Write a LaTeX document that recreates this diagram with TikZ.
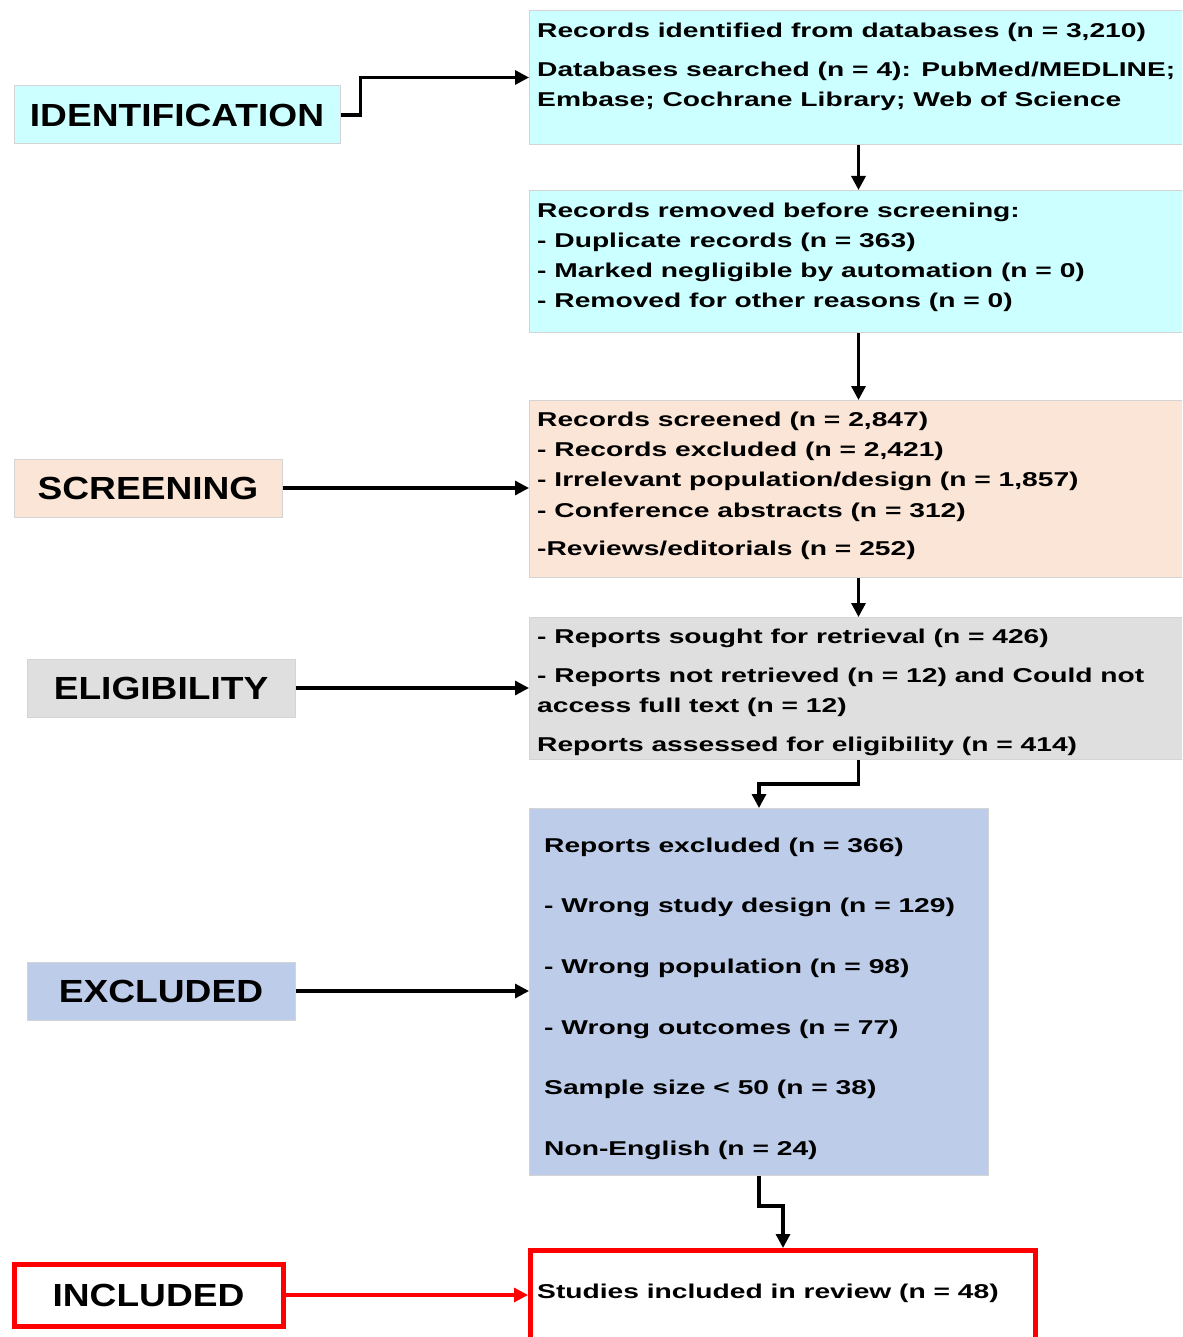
\documentclass[tikz,border=0pt]{standalone}
\usepackage{fontspec}
\setmainfont{Liberation Sans}
\newfontfamily\panelfont[FakeStretch=1.41]{Liberation Sans}
\newfontfamily\tagfont[FakeStretch=1.16]{Liberation Sans}
\definecolor{idcyan}{HTML}{CCFFFF}
\definecolor{scrpeach}{HTML}{FBE5D6}
\definecolor{eliggray}{HTML}{DFDFDF}
\definecolor{exclblue}{HTML}{BCCCE9}
\definecolor{edgegray}{HTML}{D4D4D4}
\definecolor{inclred}{HTML}{FF0000}
\usetikzlibrary{arrows.meta, positioning, calc}
\tikzstyle{tag} = [rectangle, draw=edgegray, line width=1pt, minimum height=58pt, text centered, font=\tagfont\bfseries\fontsize{32}{38}\selectfont]
\tikzstyle{panel} = [rectangle, draw=edgegray, line width=1pt, anchor=north west, inner sep=0pt]
\tikzstyle{arrow} = [-{Triangle[length=14pt, width=14pt]}, line width=3.2pt, color=black]

\begin{document}
\begin{tikzpicture}[
    x=1pt, y=-1pt,
    lines/.style={anchor=north west, inner sep=0pt, align=left,
      font=\panelfont\bfseries\fontsize{20}{30}\selectfont},
    redarrow/.style={arrow, color=inclred}
  ]
    \useasboundingbox (0,0) rectangle (1182,1337);
    \clip (0,0) rectangle (1182,1337);

    % Left column: stage tags
    \node[tag, fill=idcyan, minimum width=326pt] (idtag) at (177,115) {IDENTIFICATION};
    \node[tag, fill=scrpeach, minimum width=268pt] (scrtag) at (148,488) {SCREENING};
    \node[tag, fill=eliggray, minimum width=268pt] (eligtag) at (161,688) {ELIGIBILITY};
    \node[tag, fill=exclblue, minimum width=268pt] (excltag) at (161,991) {EXCLUDED};
    \node[tag, draw=inclred, line width=5pt, fill=white, minimum width=269pt, minimum height=62pt] (incltag) at (148.5,1295) {INCLUDED};

    % Right column: panels
    \node[panel, fill=idcyan, minimum width=658pt, minimum height=134pt] (p1) at (529,10) {};
    \node[panel, fill=idcyan, minimum width=658pt, minimum height=142pt] (p2) at (529,190) {};
    \node[panel, fill=scrpeach, minimum width=658pt, minimum height=177pt] (p3) at (529,400) {};
    \node[panel, fill=eliggray, minimum width=658pt, minimum height=142pt] (p4) at (529,617) {};
    \node[panel, fill=exclblue, minimum width=459pt, minimum height=367pt] (p5) at (529,808) {};
    \node[panel, draw=inclred, line width=5pt, fill=white, minimum width=505pt, minimum height=96pt] (p6) at (528,1248) {};

    % Panel texts
    \node[lines] (t1) at (537,22.4) {Records identified from databases (n = 3,210)\\[9pt]
      Databases searched (n = 4): PubMed/MEDLINE;\\
      Embase; Cochrane Library; Web of Science};
    \node[lines] (t2) at (537,202.6) {Records removed before screening:\\
      - Duplicate records (n = 363)\\
      - Marked negligible by automation (n = 0)\\
      - Removed for other reasons (n = 0)};
    \node[lines] (t3) at (537,411.4) {Records screened (n = 2,847)\\
      - Records excluded (n = 2,421)\\
      - Irrelevant population/design (n = 1,857)\\[1pt]
      - Conference abstracts (n = 312)\\[8pt]
      -Reviews/editorials (n = 252)};
    \node[lines] (t4) at (537,628.4) {- Reports sought for retrieval (n = 426)\\[9pt]
      - Reports not retrieved (n = 12) and Could not\\
      access full text (n = 12)\\[9pt]
      Reports assessed for eligibility (n = 414)};
    \node[lines] (t5) at (544,837.4) {Reports excluded (n = 366)\\[30.7pt]
      - Wrong study design (n = 129)\\[30.7pt]
      - Wrong population (n = 98)\\[30.7pt]
      - Wrong outcomes (n = 77)\\[30.7pt]
      Sample size < 50 (n = 38)\\[30.7pt]
      Non-English (n = 24)};
    \node[lines] (t6) at (537,1283.4) {Studies included in review (n = 48)};

    % Tags into panels
    \draw[arrow] (idtag.east) -- ++(20,0) |- (p1.west);
    \draw[arrow] (scrtag.east) -- (scrtag.east -| p3.west);
    \draw[arrow] (eligtag.east) -- (eligtag.east -| p4.west);
    \draw[arrow] (excltag.east) -- (excltag.east -| p5.west);
    \draw[redarrow] (incltag.east) -- (incltag.east -| p6.west);

    % Flow down the panels
    \draw[arrow] (p1) -- (p2);
    \draw[arrow] (p2) -- (p3);
    \draw[arrow] (p3) -- (p4);
    \draw[arrow] (p4.south) -- ++(0,24) -| (p5.north);
    \draw[arrow] (p5.south) -- ++(0,30) -| (p6.north);
  \end{tikzpicture}
\end{document}
